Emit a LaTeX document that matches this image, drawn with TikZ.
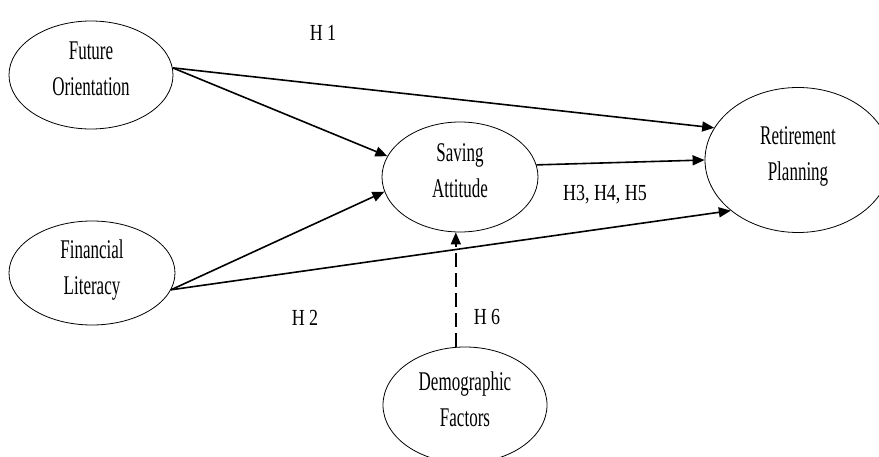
\documentclass[tikz,border=0pt]{standalone}
\usepackage{fontspec}
\setmainfont[FakeStretch=0.78]{Liberation Serif}
\newfontfamily\narrowserif[FakeStretch=0.63]{Liberation Serif}
\usetikzlibrary{shapes.geometric,arrows.meta}
\begin{document}
\begin{tikzpicture}[x=1pt,y=-1pt,
  var/.style={ellipse,draw,line width=0.8pt,inner sep=0pt,align=center,text depth=12pt,font=\narrowserif\fontsize{27}{36}\selectfont},
  lbl/.style={font=\fontsize{23}{26}\selectfont,inner sep=0pt},
  conn/.style={line width=1.6pt,-{Triangle[length=12pt,width=10pt]}},
  dconn/.style={conn,dash pattern=on 14pt off 6pt}]
\clip (0,0) rectangle (879,457);
\fill[white] (0,0) rectangle (879,457);
\node[var,minimum width=164pt,minimum height=108pt] (FO) at (91,75) {Future\\Orientation};
\node[var,minimum width=166pt,minimum height=104pt] (FL) at (92,273) {Financial\\Literacy};
\node[var,minimum width=156pt,minimum height=110pt] (SA) at (460,177) {Saving\\Attitude};
\node[var,minimum width=186pt,minimum height=145pt] (RP) at (798,160) {Retirement\\Planning};
\node[var,minimum width=164pt,minimum height=116pt] (DF) at (465,405) {Demographic\\Factors};
\node[lbl] (h1) at (323,33) {H 1};
\node[lbl] (h345) at (605,195) {H3, H4, H5};
\node[lbl] (h2) at (305,318) {H 2};
\node[lbl] (h6) at (487,317) {H 6};
\draw[conn] (FO.5) -- (RP.159);
\draw[conn] (FO.5) -- (SA.164);
\draw[conn] (FL.-12) -- (SA.191);
\draw[conn] (FL.-12) -- (RP.217);
\draw[conn] (SA.9) -- (RP.180);
\draw[dconn] (DF.99) -- (DF.99 |- SA.south);
\end{tikzpicture}
\end{document}
